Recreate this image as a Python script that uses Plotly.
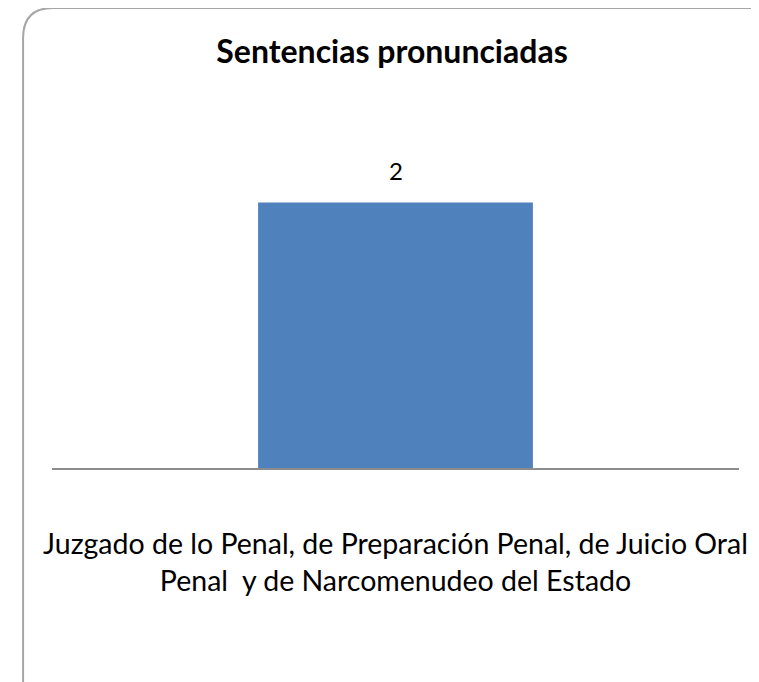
import plotly.graph_objects as go

# Data
categories = ["Juzgado de lo Penal, de Preparación Penal, de Juicio Oral<br>Penal  y de Narcomenudeo del Estado"]
values = [2]
title_text = "Sentencias pronunciadas"

OFF = 8  # page body margin
W, H = 759 - OFF, 682 - OFF
ML, MR, MT, MB = 52 - OFF, 26 - OFF, 136 - OFF, 222 - OFF
FONT = "Lato"

fig = go.Figure()
fig.add_trace(go.Bar(
    x=categories, y=values,
    marker=dict(color="#4F81BD", line=dict(width=0)),
    width=0.4,
    hoverinfo="skip",
))
for c, v in zip(categories, values):
    fig.add_annotation(x=c, y=v, text=str(v), showarrow=False,
                       yanchor="bottom", yshift=15,
                       font=dict(family=FONT, size=24, color="#000000"))

# rounded border frame (in paper coords computed from pixels)
pw = W - ML - MR
ph = H - MT - MB
def px(x):
    return (x - OFF - ML) / pw
def py(y):
    return (H - MB - (y - OFF)) / ph
x0, y0, x1, y1, r = 23, 8, 800, 720, 30
path = (f"M {px(x0)},{py(y0 + r)} "
        f"Q {px(x0)},{py(y0)} {px(x0 + r)},{py(y0)} "
        f"L {px(x1)},{py(y0)} "
        f"M {px(x0)},{py(y0 + r)} L {px(x0)},{py(y1)}")
fig.add_shape(type="path", xref="paper", yref="paper", path=path,
              line=dict(color="#A6A6A6", width=2))

fig.update_layout(
    width=W, height=H,
    margin=dict(l=ML, r=MR, t=MT, b=MB),
    paper_bgcolor="white", plot_bgcolor="white",
    showlegend=False,
    title=dict(text=f"<b>{title_text}</b>", x=(392 - OFF) / W, xanchor="center",
               y=1 - (52 - OFF) / H, yanchor="middle",
               font=dict(family=FONT, size=32, color="#000000")),
    font=dict(family=FONT, color="#000000"),
    xaxis=dict(showline=True, linecolor="#8C8C8C", linewidth=2,
               ticks="outside", ticklen=50, tickcolor="rgba(0,0,0,0)",
               tickfont=dict(family=FONT, size=28.5, color="#000000"),
               showgrid=False, zeroline=False, range=[-0.5, 0.5]),
    yaxis=dict(visible=False, range=[0, 2.5], showgrid=False, zeroline=False),
)

fig.write_html("out.html")
